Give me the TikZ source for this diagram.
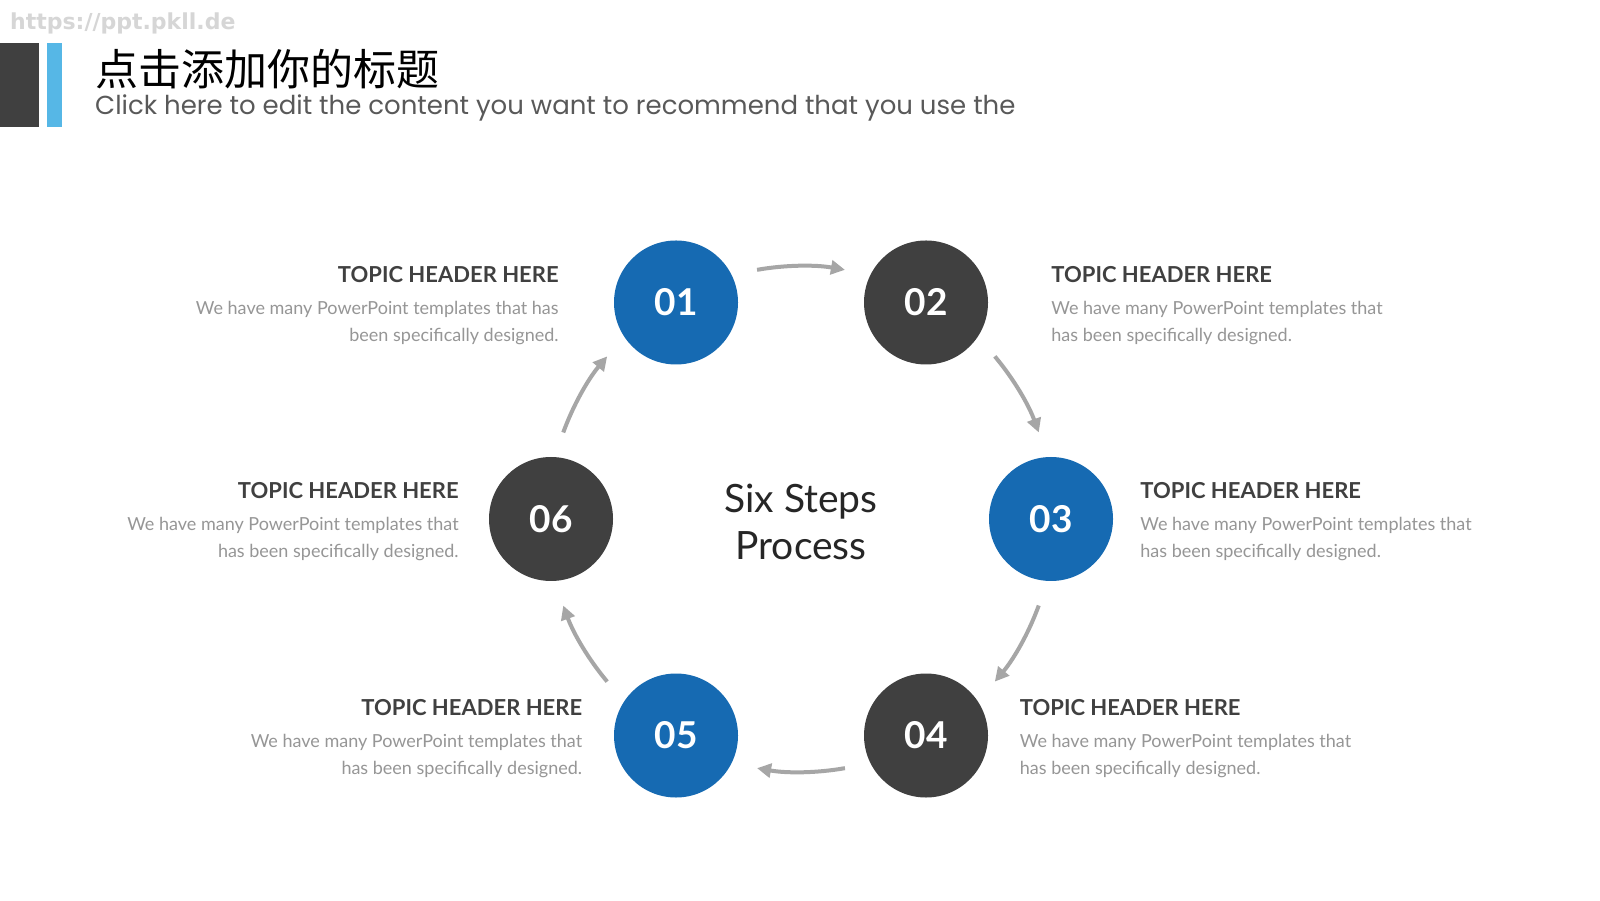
\documentclass[tikz,border=0pt]{standalone}
\usepackage{fontspec}
\setmainfont{Lato}
\newfontfamily\cjkfont{Noto Sans CJK SC}
\newfontfamily\subfont{Poppins}
\newfontfamily\markfont{DejaVu Sans}
\usetikzlibrary{arrows.meta, positioning, calc}
\definecolor{stepblue}{RGB}{22,106,178}
\definecolor{stepdark}{RGB}{64,64,64}
\definecolor{barblue}{RGB}{86,183,230}
\definecolor{arcgray}{RGB}{166,166,166}
\definecolor{notegray}{RGB}{150,150,150}
\definecolor{headgray}{RGB}{64,64,64}

\begin{document}
\begin{tikzpicture}[
  x=1pt, y=1pt,
  dot/.style={circle, minimum size=124pt, inner sep=0pt, text=white, font=\fontsize{37}{37}\selectfont\bfseries},
  bluedot/.style={dot, fill=stepblue},
  darkdot/.style={dot, fill=stepdark},
  topic/.style={inner sep=0pt, text=headgray, font=\fontsize{22}{22}\selectfont\bfseries},
  note/.style={inner sep=0pt, text=notegray, font=\fontsize{18}{27}\selectfont},
  flow/.style={draw=arcgray, line width=4pt, -{Triangle[length=14pt, width=14pt]}}
]
  \useasboundingbox[fill=white] (0,0) rectangle (1600,900);

  % title block
  \node[anchor=west, inner sep=0pt, text=black!16, font=\markfont\bfseries\fontsize{22}{22}\selectfont] (mark) at (10,877) {https://ppt.pkll.de};
  \fill[stepdark] (0,773) rectangle (39,857);
  \fill[barblue] (47,773) rectangle (62,857);
  \node[anchor=west, inner sep=0pt, font=\cjkfont\fontsize{43}{43}\selectfont] (title) at (95,831) {点击添加你的标题};
  \node[anchor=west, inner sep=0pt, text=black!65, font=\subfont\fontsize{26}{26}\selectfont] (subtitle) at (95,792) {Click here to edit the content you want to recommend that you use the};

  % steps
  \coordinate (ctr) at (801,381);
  \node[bluedot] (s1) at ($(ctr)+(120:250)$) {01};
  \node[darkdot] (s2) at ($(ctr)+(60:250)$) {02};
  \node[bluedot] (s3) at ($(ctr)+(0:250)$) {03};
  \node[darkdot] (s4) at ($(ctr)+(-60:250)$) {04};
  \node[bluedot] (s5) at ($(ctr)+(-120:250)$) {05};
  \node[darkdot] (s6) at ($(ctr)+(180:250)$) {06};

  \node[align=center, text=black!85, font=\fontsize{39}{47}\selectfont] (label) at ($(ctr)+(0,-3)$) {Six Steps\\Process};

  \foreach \a in {90,30,-30,-90,-150,150}
    \draw[flow] ($(ctr)+(\a+10:253)$) arc[start angle=\a+10, delta angle=-20, radius=253pt];

  % texts
  \node[topic, anchor=base east] (h1) at ([shift={(-55,20)}]s1.west) {TOPIC HEADER HERE};
  \node[note, align=right, below left=18pt and 0pt of h1.south east] (n1) {We have many PowerPoint templates that has\\been specifically designed.};

  \node[topic, anchor=base west] (h2) at ([shift={(63,20)}]s2.east) {TOPIC HEADER HERE};
  \node[note, align=left, below right=18pt and 0pt of h2.south west] (n2) {We have many PowerPoint templates that\\has been specifically designed.};

  \node[topic, anchor=base west] (h3) at ([shift={(27,20)}]s3.east) {TOPIC HEADER HERE};
  \node[note, align=left, below right=18pt and 0pt of h3.south west] (n3) {We have many PowerPoint templates that\\has been specifically designed.};

  \node[topic, anchor=base west] (h4) at ([shift={(31.5,20)}]s4.east) {TOPIC HEADER HERE};
  \node[note, align=left, below right=18pt and 0pt of h4.south west] (n4) {We have many PowerPoint templates that\\has been specifically designed.};

  \node[topic, anchor=base east] (h5) at ([shift={(-31.5,20)}]s5.west) {TOPIC HEADER HERE};
  \node[note, align=right, below left=18pt and 0pt of h5.south east] (n5) {We have many PowerPoint templates that\\has been specifically designed.};

  \node[topic, anchor=base east] (h6) at ([shift={(-30,20)}]s6.west) {TOPIC HEADER HERE};
  \node[note, align=right, below left=18pt and 0pt of h6.south east] (n6) {We have many PowerPoint templates that\\has been specifically designed.};
\end{tikzpicture}
\end{document}
